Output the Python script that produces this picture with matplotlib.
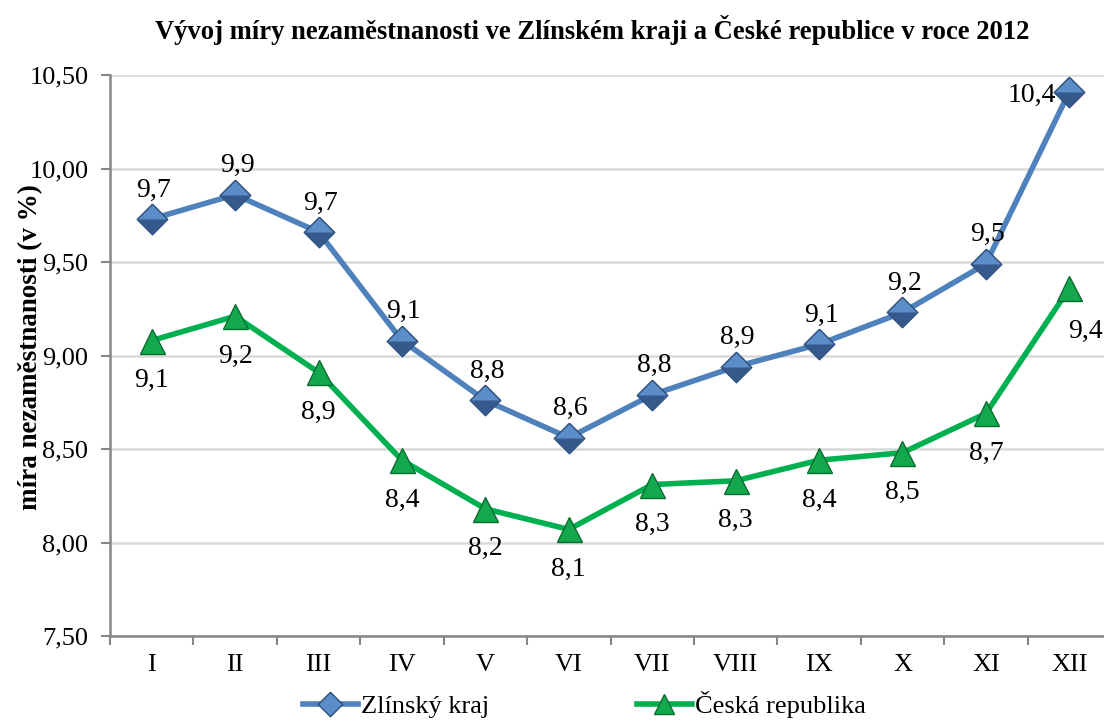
import numpy as np
import matplotlib.pyplot as plt
from matplotlib.ticker import FuncFormatter, FixedLocator

plt.rcParams['font.family'] = ['Liberation Serif', 'DejaVu Serif']

months = ['I', 'II', 'III', 'IV', 'V', 'VI', 'VII', 'VIII', 'IX', 'X', 'XI', 'XII']
zlin = [9.73, 9.86, 9.66, 9.08, 8.76, 8.56, 8.79, 8.94, 9.06, 9.23, 9.49, 10.41]
cr = [9.08, 9.21, 8.91, 8.44, 8.18, 8.07, 8.31, 8.33, 8.44, 8.48, 8.69, 9.36]

blue = '#4F81BD'
green = '#00B050'

# marker shapes (diamond with a darker lower half for a bevel look)
diamond = [(0, 1), (1, 0), (0, -1), (-1, 0), (0, 1)]
lower = [(-1, 0), (1, 0), (0, -1), (-1, 0)]

fig = plt.figure(figsize=(11.04, 7.22), dpi=100)
# plot area runs a bit past the right edge of the picture, as in the original
ax = fig.add_axes([110 / 1104, 86 / 722, 1001 / 1104, 561 / 722])

x = np.arange(len(months))
ax.plot(x, zlin, color=blue, lw=4, marker=diamond, ms=22, mfc='#5B8DC9',
        mec='#2C4D75', mew=1.0, label='Zlínský kraj', zorder=3)
ax.plot(x, zlin, ls='none', marker=lower, ms=22, mfc='#35598A', mec='none', zorder=4)
ax.plot(x, cr, color=green, lw=4, marker='^', ms=18, mfc='#14A84E',
        mec='#0B6B31', mew=1.0, label='Česká republika', zorder=3)


def fmt1(v):
    return f'{v:.1f}'.replace('.', ',')


for i, v in enumerate(zlin):
    if i == len(zlin) - 1:
        ax.annotate(fmt1(v), (i, v), xytext=(-13, -4), textcoords='offset pixels',
                    ha='right', va='center', fontsize=20)
    else:
        ax.annotate(fmt1(v), (i, v), xytext=(2, 29), textcoords='offset pixels',
                    ha='center', va='center', fontsize=20)

for i, v in enumerate(cr):
    if i == len(cr) - 1:
        off = (16, -43)
    else:
        off = (0, -40)
    ax.annotate(fmt1(v), (i, v), xytext=off, textcoords='offset pixels',
                ha='center', va='center', fontsize=20)

ax.set_xlim(-0.5, 11.5)
ax.set_ylim(7.5, 10.5)
ax.set_yticks(np.arange(7.5, 10.51, 0.5))
ax.yaxis.set_major_formatter(FuncFormatter(lambda v, p: f'{v:.2f}'.replace('.', ',')))
ax.set_xticks(x)
ax.set_xticklabels(months)
ax.xaxis.set_minor_locator(FixedLocator(np.arange(-0.5, 12, 1)))
ax.tick_params(axis='x', which='major', length=0, pad=13, labelsize=19)
ax.tick_params(axis='x', which='minor', length=6.5, width=1.5, color='#868686', direction='out')
ax.tick_params(axis='y', length=6.5, width=1.5, color='#868686', labelsize=19, pad=9)

ax.grid(axis='y', color='#D9D9D9', lw=1.8)
ax.set_axisbelow(True)
for s in ['top', 'right']:
    ax.spines[s].set_visible(False)
for s in ['left', 'bottom']:
    ax.spines[s].set_color('#868686')
    ax.spines[s].set_linewidth(1.8)

ax.set_ylabel('míra nezaměstnanosti (v %)', fontsize=19.5, fontweight='bold')
ax.yaxis.set_label_coords(-0.067, 0.515)

fig.text(0.536, 0.958, 'Vývoj míry nezaměstnanosti ve Zlínském kraji a České republice v roce 2012',
         ha='center', va='center', fontsize=19.2, fontweight='bold')

fig.legend(loc='lower center', bbox_to_anchor=(0.529, -0.028), ncol=2, frameon=False,
           fontsize=19, handlelength=2.1, handletextpad=0.1, columnspacing=5.6,
           markerscale=0.8)

fig.savefig('out.png', dpi=100)
